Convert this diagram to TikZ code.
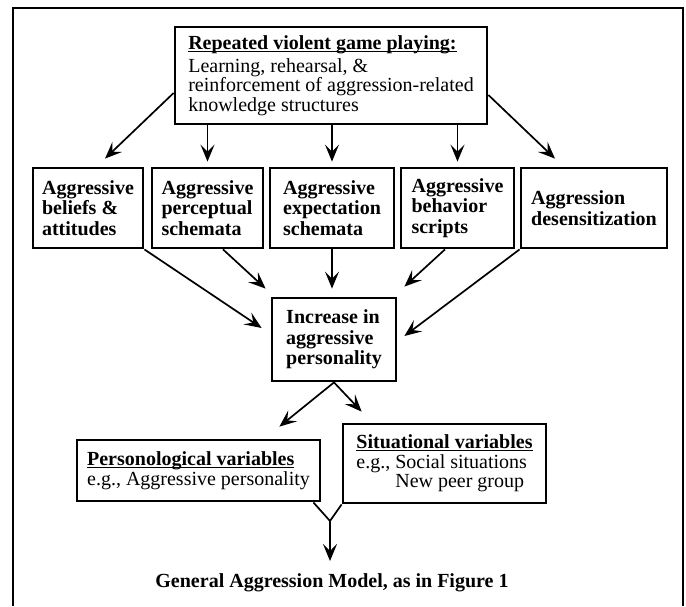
\documentclass[tikz,border=0pt]{standalone}
\usepackage{fontspec}
\setmainfont{Liberation Serif}
\usetikzlibrary{arrows.meta,calc}
\newcommand{\myul}[1]{\setbox0\hbox{#1}\rlap{\rule[-2.6pt]{\wd0}{1.5pt}}\box0}
\begin{document}
\begin{tikzpicture}[x=1pt,y=-1pt,
  box/.style={draw, line width=2.8pt, inner sep=0pt, align=left, font=\fontsize{20}{19.5}\selectfont},
  bbox/.style={box, font=\fontsize{20}{20.5}\selectfont\bfseries},
  arr/.style={line width=1.7pt, -{Stealth[length=17pt,width=14pt,inset=7pt]}},
  ln/.style={line width=1.7pt}]
\useasboundingbox (0,0) rectangle (686,606);
% outer frame
\draw[line width=1.3pt] (13,606) -- (13,8) -- (683,8) -- (683,606);
% top box
\node[box, minimum width=312, minimum height=97] (top) at (331,75.5)
  {\textbf{\myul{Repeated violent game playing:}}\\[3pt]
   Learning, rehearsal, \&\\
   reinforcement of aggression-related\\
   knowledge structures};
% middle row
\node[bbox, minimum width=110, minimum height=80] (b1) at (88,208) {Aggressive\\beliefs \&\\attitudes};
\node[bbox, minimum width=111, minimum height=80] (b2) at (207.5,208) {Aggressive\\perceptual\\schemata};
\node[bbox, minimum width=124, minimum height=80] (b3) at (332,208) {Aggressive\\expectation\\schemata};
\node[bbox, minimum width=113, minimum height=80] (b4) at (457.5,208) {Aggressive\\behavior\\scripts};
\node[bbox, minimum width=146, minimum height=80] (b5) at (594,208) {Aggression\\desensitization};
% center
\node[bbox, minimum width=124, minimum height=83] (inc) at (334,339.5) {Increase in\\aggressive\\personality};
% bottom boxes
\node[box, minimum width=243, minimum height=61] (pers) at (198.5,470.5)
  {\textbf{\myul{Personological variables}}\\e.g., Aggressive personality};
\node[box, minimum width=203, minimum height=79] (sit) at (444.5,463.5)
  {\textbf{\myul{Situational variables}}\\e.g., Social situations\\\hphantom{e.g.,~}New peer group};
% caption
\node[inner sep=0pt, font=\fontsize{20}{20}\selectfont\bfseries] (cap) at (332,583) {General Aggression Model, as in Figure 1};
% arrows from top
\draw[arr] ($(top.west)+(0,17.5)$) -- ($(b1.north)+(17,-8)$);
\draw[arr] (b2.north |- top.south) -- ($(b2.north)+(0,-5)$);
\draw[arr] (b3.north |- top.south) -- ($(b3.north)+(0,-5)$);
\draw[arr] (b4.north |- top.south) -- ($(b4.north)+(0,-5)$);
\draw[arr] ($(top.east)+(0,19.5)$) -- ($(b5.north)+(-39,-8)$);
% arrows to center
\draw[arr] (b1.south east) -- ($(inc.west)+(-9,-11.5)$);
\draw[arr] ($(b2.south)+(15.5,0)$) -- ($(inc.north west)+(-5,-8)$);
\draw[arr] (b3.south) -- ($(b3.south |- inc.north)+(0,-8)$);
\draw[arr] ($(b4.south)+(-12.5,0)$) -- ($(inc.north east)+(7,-10)$);
\draw[arr] (b5.south west) -- ($(inc.east)+(7,-3.5)$);
% center to bottom
\draw[arr] (inc.south) -- ($(pers.north east)+(-42,-12)$);
\draw[arr] (inc.south) -- ($(sit.north west)+(20,-11)$);
% merge
\coordinate (m) at (330,521);
\coordinate (mend) at (330,561);
\draw[ln] ($(pers.south east)+(-8,0)$) -- (m) -- (sit.south west);
\draw[arr] (m) -- (mend);
\end{tikzpicture}
\end{document}
